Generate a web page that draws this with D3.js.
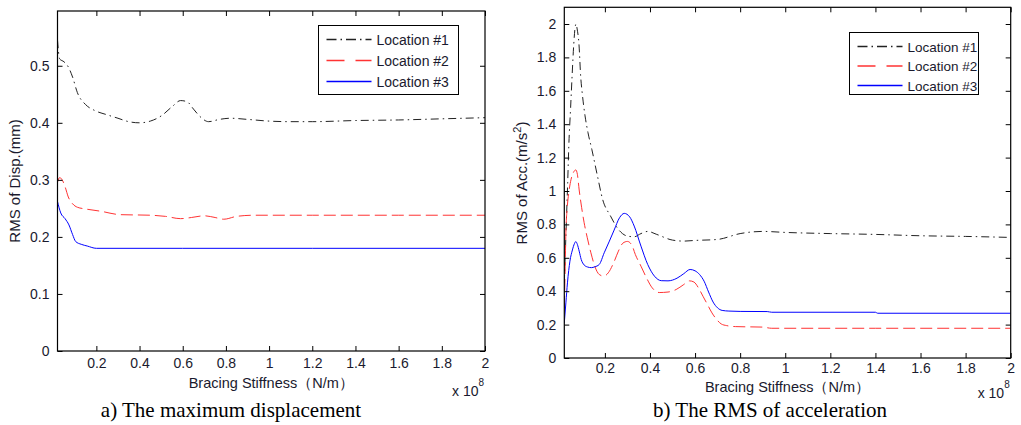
<!DOCTYPE html>
<html>
<head>
<meta charset="utf-8">
<script src="https://cdn.jsdelivr.net/npm/d3@7/dist/d3.min.js"></script>
<style>
  html, body { margin: 0; padding: 0; background: #fff; }
  svg { display: block; }
</style>
</head>
<body>
<svg id="chart" width="1021" height="425"></svg>
<script>
// Stiffness axis (x 10^8 N/m) tick values and labels, shared by both panels
const xTicks = [0.2, 0.4, 0.6, 0.8, 1.0, 1.2, 1.4, 1.6, 1.8, 2.0];
const xTickLabels = ["0.2", "0.4", "0.6", "0.8", "1", "1.2", "1.4", "1.6", "1.8", "2"];

const seriesNames = ["Location #1", "Location #2", "Location #3"];

// Panel a) maximum displacement (mm)
const dispTicks = [0, 0.1, 0.2, 0.3, 0.4, 0.5];
const dispTickLabels = ["0", "0.1", "0.2", "0.3", "0.4", "0.5"];
const dispLoc1 = [[0.02,0.545],[0.03,0.512],[0.05,0.507],[0.07,0.498],[0.09,0.48],[0.112,0.453],[0.15,0.432],[0.19,0.422],[0.25,0.414],[0.3,0.408],[0.35,0.402],[0.4,0.40],[0.45,0.403],[0.5,0.412],[0.55,0.428],[0.59,0.439],[0.62,0.437],[0.65,0.424],[0.68,0.411],[0.72,0.402],[0.77,0.406],[0.82,0.408],[0.9,0.406],[1.0,0.403],[1.1,0.402],[1.2,0.402],[1.4,0.404],[1.6,0.405],[1.8,0.407],[2.0,0.409]];
const dispLoc2 = [[0.02,0.296],[0.03,0.304],[0.04,0.301],[0.055,0.288],[0.07,0.27],[0.09,0.258],[0.112,0.252],[0.15,0.249],[0.22,0.245],[0.31,0.239],[0.45,0.238],[0.52,0.236],[0.59,0.232],[0.64,0.234],[0.7,0.237],[0.75,0.234],[0.79,0.231],[0.85,0.236],[0.93,0.238],[1.2,0.238],[1.6,0.238],[2.0,0.238]];
const dispLoc3 = [[0.02,0.262],[0.035,0.242],[0.055,0.232],[0.073,0.221],[0.09,0.204],[0.104,0.192],[0.13,0.187],[0.158,0.184],[0.2,0.18],[0.6,0.18],[1.2,0.18],[2.0,0.18]];

// Panel b) RMS of acceleration (m/s^2)
const accTicks = [0, 0.2, 0.4, 0.6, 0.8, 1.0, 1.2, 1.4, 1.6, 1.8, 2.0];
const accTickLabels = ["0", "0.2", "0.4", "0.6", "0.8", "1", "1.2", "1.4", "1.6", "1.8", "2"];
const accLoc1 = [[0.02,0.45],[0.025,0.65],[0.03,0.85],[0.035,1.05],[0.04,1.27],[0.048,1.5],[0.055,1.7],[0.062,1.88],[0.068,1.98],[0.072,2.0],[0.077,1.97],[0.085,1.88],[0.093,1.68],[0.1,1.58],[0.112,1.45],[0.125,1.35],[0.142,1.25],[0.167,1.09],[0.19,0.95],[0.225,0.85],[0.26,0.77],[0.3,0.73],[0.33,0.726],[0.36,0.745],[0.39,0.758],[0.43,0.74],[0.5,0.706],[0.55,0.7],[0.6,0.704],[0.7,0.71],[0.8,0.745],[0.9,0.758],[1.0,0.752],[1.2,0.745],[1.4,0.74],[1.6,0.732],[1.8,0.728],[2.0,0.722]];
const accLoc2 = [[0.02,0.3],[0.024,0.55],[0.027,0.75],[0.033,0.9],[0.041,1.0],[0.05,1.07],[0.06,1.11],[0.071,1.126],[0.078,1.1],[0.086,1.006],[0.097,0.9],[0.108,0.81],[0.122,0.72],[0.138,0.63],[0.155,0.55],[0.175,0.5],[0.195,0.49],[0.215,0.51],[0.241,0.577],[0.26,0.64],[0.28,0.688],[0.3,0.698],[0.32,0.675],[0.335,0.62],[0.36,0.55],[0.382,0.487],[0.41,0.42],[0.441,0.392],[0.48,0.395],[0.516,0.41],[0.55,0.44],[0.575,0.462],[0.595,0.455],[0.615,0.42],[0.635,0.37],[0.655,0.32],[0.675,0.27],[0.695,0.232],[0.716,0.204],[0.74,0.194],[0.78,0.188],[0.9,0.185],[0.94,0.178],[1.4,0.178],[2.0,0.178]];
const accLoc3 = [[0.02,0.21],[0.027,0.33],[0.034,0.45],[0.045,0.58],[0.056,0.647],[0.065,0.685],[0.071,0.697],[0.078,0.68],[0.086,0.64],[0.095,0.59],[0.108,0.557],[0.123,0.545],[0.14,0.541],[0.155,0.546],[0.175,0.56],[0.197,0.63],[0.22,0.7],[0.241,0.766],[0.265,0.84],[0.286,0.866],[0.31,0.845],[0.33,0.79],[0.36,0.67],[0.39,0.56],[0.42,0.49],[0.45,0.463],[0.48,0.462],[0.52,0.478],[0.55,0.505],[0.578,0.53],[0.6,0.522],[0.62,0.5],[0.64,0.46],[0.66,0.395],[0.68,0.335],[0.7,0.3],[0.72,0.285],[0.75,0.281],[0.8,0.279],[0.92,0.278],[0.94,0.274],[1.4,0.274],[1.41,0.268],[2.0,0.268]];

// Line styles: dash-dot black, dashed red, solid blue
const seriesStyles = [
  { color: "#222", dash: "8,4,1.5,4", legendDash: "10,4,1.5,4" },
  { color: "#ff3333", dash: "12,5", legendDash: "18,11" },
  { color: "#0000ff", dash: null, legendDash: null }
];

const svg = d3.select("#chart");
const FONT = "'Liberation Sans', Arial, sans-serif";
const TEXT_COLOR = "#1a1a2e";

function drawPanel(p) {
  const x = d3.scaleLinear().domain([0.02, 2]).range([p.left, p.right]);
  const y = d3.scaleLinear().domain([0, p.yMax]).range([p.bottom, p.top]);
  const g = svg.append("g");

  const clipId = "clip-" + p.id;
  svg.append("clipPath").attr("id", clipId)
    .append("rect").attr("x", p.left).attr("y", p.top)
    .attr("width", p.right - p.left).attr("height", p.bottom - p.top);

  // series lines
  const line = d3.line().x(d => x(d[0])).y(d => y(d[1])).curve(d3.curveMonotoneX);
  p.series.forEach((s, i) => {
    g.append("path")
      .attr("clip-path", `url(#${clipId})`)
      .attr("d", line(s))
      .attr("fill", "none")
      .attr("stroke", seriesStyles[i].color)
      .attr("stroke-width", 1)
      .attr("stroke-dasharray", seriesStyles[i].dash);
  });

  // axes: bottom/left with labels, top/right with inward ticks only
  const tickLen = 5;
  const axB = d3.axisBottom(x).tickValues(xTicks).tickSizeInner(-tickLen).tickSizeOuter(0)
    .tickPadding(p.xTickPad).tickFormat((d, i) => xTickLabels[i]);
  const axT = d3.axisTop(x).tickValues(xTicks).tickSizeInner(-tickLen).tickSizeOuter(0).tickFormat("");
  const axL = d3.axisLeft(y).tickValues(p.yTicks).tickSizeInner(-tickLen).tickSizeOuter(0)
    .tickPadding(8).tickFormat((d, i) => p.yTickLabels[i]);
  const axR = d3.axisRight(y).tickValues(p.yTicks).tickSizeInner(-tickLen).tickSizeOuter(0).tickFormat("");

  const axes = [
    g.append("g").attr("transform", `translate(0,${p.bottom})`).call(axB),
    g.append("g").attr("transform", `translate(0,${p.top})`).call(axT),
    g.append("g").attr("transform", `translate(${p.left},0)`).call(axL),
    g.append("g").attr("transform", `translate(${p.right},0)`).call(axR)
  ];
  axes.forEach(a => {
    a.select(".domain").remove();
    a.selectAll("line").attr("stroke", "#000").attr("stroke-width", 1);
    a.selectAll("text").attr("fill", TEXT_COLOR).style("font-family", FONT).style("font-size", "14px");
  });

  // frame
  g.append("rect").attr("x", p.left).attr("y", p.top)
    .attr("width", p.right - p.left).attr("height", p.bottom - p.top)
    .attr("fill", "none").attr("stroke", "#000").attr("stroke-width", 1.2);

  // axis titles
  g.append("text").attr("x", (p.left + p.right) / 2).attr("y", p.xLabelY)
    .attr("text-anchor", "middle").style("font-family", FONT).style("font-size", "14.5px")
    .attr("fill", TEXT_COLOR).text("Bracing Stiffness（N/m）");

  const yl = g.append("text")
    .attr("transform", `translate(${p.yLabelX},${p.yLabelY}) rotate(-90)`)
    .attr("text-anchor", "middle").style("font-family", FONT).style("font-size", "15px")
    .attr("fill", TEXT_COLOR);
  yl.append("tspan").text(p.yLabel);
  if (p.yLabelSup) {
    yl.append("tspan").attr("dy", -6).style("font-size", "11px").text(p.yLabelSup);
    yl.append("tspan").attr("dy", 6).text(p.yLabelTail);
  }

  // exponent note
  const ex = g.append("text").attr("x", p.right - 33).attr("y", p.expY)
    .style("font-family", FONT).style("font-size", "14px").attr("fill", TEXT_COLOR);
  ex.append("tspan").text("x 10");
  ex.append("tspan").attr("dy", -10).style("font-size", "10px").text("8");

  // legend
  const lg = g.append("g");
  lg.append("rect").attr("x", p.legend.x).attr("y", p.legend.y)
    .attr("width", p.legend.w).attr("height", p.legend.h)
    .attr("fill", "#fff").attr("stroke", "#000").attr("stroke-width", 1);
  seriesNames.forEach((name, i) => {
    const cy = p.legend.y + 14 + i * p.legend.step;
    lg.append("line")
      .attr("x1", p.legend.x + 8).attr("x2", p.legend.x + 53)
      .attr("y1", cy).attr("y2", cy)
      .attr("stroke", seriesStyles[i].color).attr("stroke-width", 1.3)
      .attr("stroke-dasharray", seriesStyles[i].legendDash);
    lg.append("text").attr("x", p.legend.x + 58).attr("y", cy + 5)
      .style("font-family", FONT).style("font-size", p.legend.font).attr("fill", TEXT_COLOR)
      .text(name);
  });

  // caption
  svg.append("text").attr("x", p.captionX).attr("y", 417)
    .attr("text-anchor", "middle")
    .style("font-family", "'Liberation Serif', 'Times New Roman', serif")
    .style("font-size", "21px").attr("fill", "#000")
    .text(p.caption);
}

drawPanel({
  id: "a", left: 57.5, right: 485, top: 11, bottom: 351, yMax: 0.596,
  yTicks: dispTicks, yTickLabels: dispTickLabels,
  series: [dispLoc1, dispLoc2, dispLoc3],
  xTickPad: 7, xLabelY: 388, expY: 396,
  yLabel: "RMS of Disp.(mm)", yLabelX: 20, yLabelY: 181,
  legend: { x: 318.5, y: 25.5, w: 140, h: 69, step: 21, font: "14px" },
  caption: "a) The maximum displacement", captionX: 231
});

drawPanel({
  id: "b", left: 564.3, right: 1010.7, top: 7.3, bottom: 358, yMax: 2.1,
  yTicks: accTicks, yTickLabels: accTickLabels,
  series: [accLoc1, accLoc2, accLoc3],
  xTickPad: 5, xLabelY: 392, expY: 398,
  yLabel: "RMS of Acc.(m/s", yLabelSup: "2", yLabelTail: ")", yLabelX: 527, yLabelY: 183,
  legend: { x: 849.5, y: 32.5, w: 129, h: 62, step: 19.5, font: "13.5px" },
  caption: "b) The RMS of acceleration", captionX: 770
});
</script>
</body>
</html>
